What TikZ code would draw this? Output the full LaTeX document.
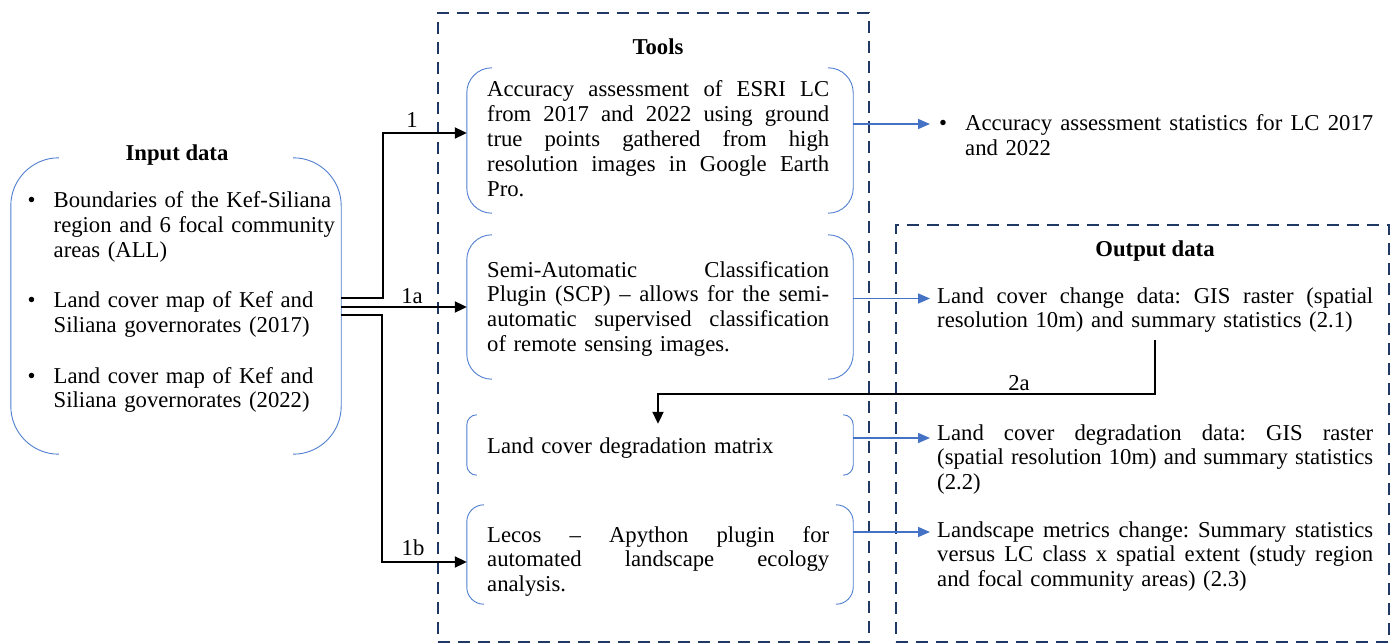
\documentclass[tikz,border=0pt]{standalone}
\usepackage{fontspec}
\setmainfont{Liberation Serif}
\usetikzlibrary{calc,arrows.meta}
\definecolor{navy}{HTML}{1F3864}
\definecolor{blu}{HTML}{4472C4}
\definecolor{brkc}{HTML}{4F7FD0}
\newcommand\fsz{\fontsize{22.7}{24.8}\selectfont\frenchspacing}
\newcommand\jw{342pt}
\newcommand\jl[1]{\hbox to \jw{\spaceskip=0.25em plus 1fil\relax #1}\par}
\newcommand\bul{\llap{\makebox[26pt][l]{\textbullet}}}
\newcommand\brk[2]{%
 \draw[brk] ($(#1.north west)+(#2,0)$) arc[start angle=90,end angle=180,radius=#2] -- ($(#1.south west)+(0,#2)$) arc[start angle=180,end angle=270,radius=#2];
 \draw[brk] ($(#1.north east)+(-#2,0)$) arc[start angle=90,end angle=0,radius=#2] -- ($(#1.south east)+(0,#2)$) arc[start angle=0,end angle=-90,radius=#2];}
\tikzset{
 txt/.style={anchor=base west, inner sep=0pt, text width=#1, font=\fsz, execute at begin node={\renewcommand\jw{#1}}},
 ttl/.style={anchor=base, inner sep=0pt, font=\fsz\bfseries},
 lbl/.style={anchor=base, inner sep=0pt, font=\fsz},
 brkbox/.style={draw=none, inner sep=0pt, minimum width=#1},
 brk/.style={draw=brkc, line width=0.9pt},
 dbox/.style={draw=navy, line width=2pt, dash pattern=on 12pt off 8pt, inner sep=0pt},
 karrow/.style={draw=black, line width=2pt, -{Triangle[length=12pt,width=11pt]}},
 barrow/.style={draw=blu, line width=1.6pt, -{Triangle[length=12pt,width=10pt]}}
}
\begin{document}
\begin{tikzpicture}[x=1pt,y=1pt]
\useasboundingbox (0,0) rectangle (1397,-644);
% dashed containers
\node[dbox, minimum width=431pt, minimum height=629pt] (tools) at (653.5,-327.5) {};
\node[dbox, minimum width=493pt, minimum height=417pt] (outbox) at (1142.5,-433.5) {};
% titles
\node[ttl] (tin) at (177,-161) {Input data};
\node[ttl] (ttools) at (658,-55) {Tools};
\node[ttl] (tout) at (1155,-257) {Output data};
% input box
\node[brkbox=330pt, minimum height=296pt] (in) at (176,-306) {};
\brk{in}{48pt}
\node[txt=310pt, align=left] (i1) at (53.5,-208) {\bul Boundaries of the Kef-Siliana\\region and 6 focal community\\areas (ALL)};
\node[txt=310pt, align=left] (i2) at (53.5,-308) {\bul Land cover map of Kef and\\Siliana governorates (2017)};
\node[txt=310pt, align=left] (i3) at (53.5,-383) {\bul Land cover map of Kef and\\Siliana governorates (2022)};
% tools boxes
\node[brkbox=386pt, minimum height=145pt] (t1) at (660,-140.5) {};
\brk{t1}{25pt}
\node[txt=342pt] (t1t) at (487,-97) {\jl{Accuracy assessment of ESRI LC}\jl{from 2017 and 2022 using ground}\jl{true points gathered from high}\jl{resolution images in Google Earth}Pro.};
\node[brkbox=386pt, minimum height=144pt] (t2) at (660,-307) {};
\brk{t2}{25pt}
\node[txt=342pt] (t2t) at (487,-277) {\jl{Semi-Automatic Classification}\jl{Plugin (SCP) -- allows for the semi-}\jl{automatic supervised classification}of remote sensing images.};
\node[brkbox=386pt, minimum height=60pt] (t3) at (660,-445) {};
\brk{t3}{10pt}
\node[txt=342pt] (t3t) at (487,-453) {Land cover degradation matrix};
\node[brkbox=386pt, minimum height=99pt] (t4) at (660,-554.5) {};
\brk{t4}{17pt}
\node[txt=342pt] (t4t) at (487,-542) {\jl{Lecos -- Apython plugin for}\jl{automated landscape ecology}analysis.};
% outputs
\node[txt=408pt] (o0) at (965,-131) {\llap{\makebox[26pt][l]{\textbullet}}\jl{Accuracy assessment statistics for LC 2017}and 2022};
\node[txt=436pt] (o1) at (937,-303) {\jl{Land cover change data: GIS raster (spatial}resolution 10m) and summary statistics (2.1)};
\node[txt=436pt] (o2) at (937,-440) {\jl{Land cover degradation data: GIS raster}\jl{(spatial resolution 10m) and summary statistics}(2.2)};
\node[txt=436pt] (o3) at (937,-537) {\jl{Landscape metrics change: Summary statistics}\jl{versus LC class x spatial extent (study region}and focal community areas) (2.3)};
% blue arrows
\coordinate (a0) at (930,-124);
\coordinate (a1) at (930,-298.5);
\coordinate (a2) at (930,-438);
\coordinate (a3) at (930,-532);
\draw[barrow] (t1.east |- a0) -- (a0);
\draw[barrow] (t2.east |- a1) -- (a1);
\draw[barrow] (t3.east |- a2) -- (a2);
\draw[barrow] (t4.east |- a3) -- (a3);
% black arrows from input
\coordinate (k1) at (383,-298);
\coordinate (k1b) at (382,-315);
\draw[karrow] ([yshift=8pt]in.east) -- (k1) |- ([yshift=7.5pt]t1.west);
\draw[karrow] ([yshift=-1pt]in.east) -- (t2.west);
\draw[karrow] ([yshift=-9pt]in.east) -- (k1b) |- ([yshift=-7.5pt]t4.west);
\node[lbl] (l1) at (412,-128) {1};
\node[lbl] (l1a) at (412,-303) {1a};
\node[lbl] (l1b) at (413,-555) {1b};
% 2a arrow
\coordinate (k2a) at (1155,-394);
\coordinate (j2a) at (658,-394);
\draw[karrow] ($(o1.south -| k2a)+(0,-7pt)$) -- (k2a) -- (j2a) -- ($(t3.north -| j2a)+(0,-9pt)$);
\node[lbl] (l2a) at (1019,-390) {2a};
\end{tikzpicture}
\end{document}
